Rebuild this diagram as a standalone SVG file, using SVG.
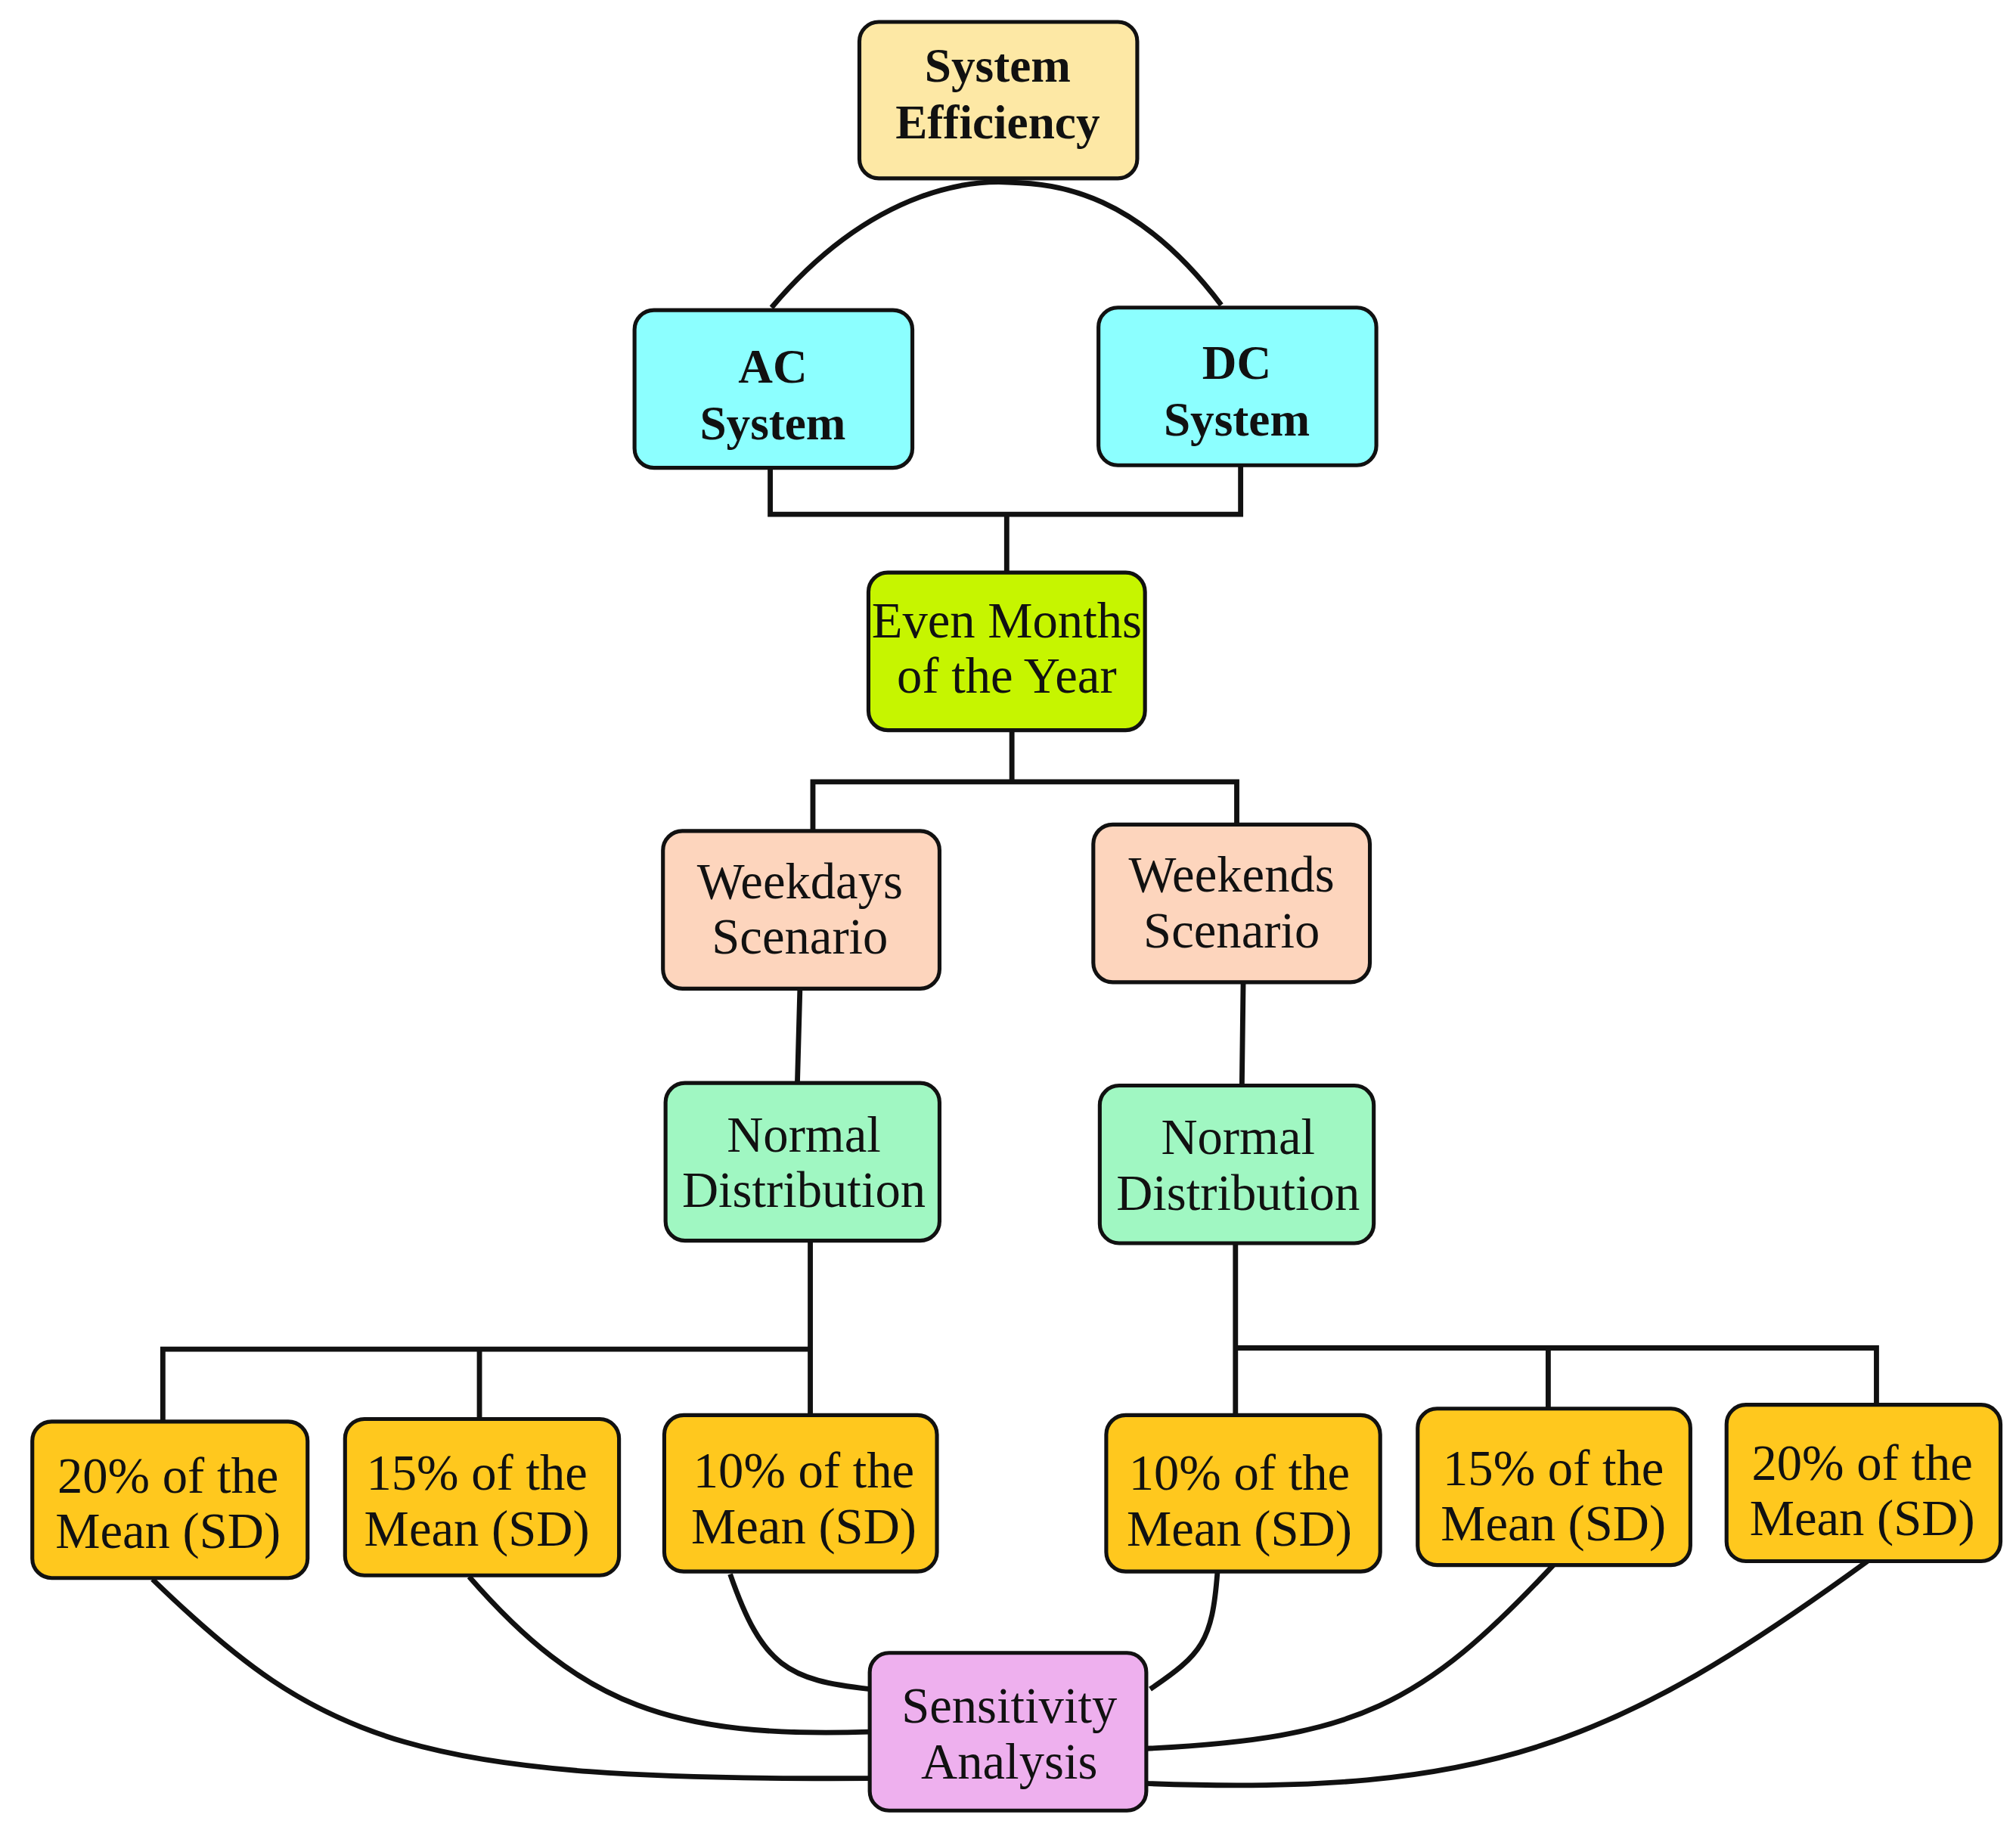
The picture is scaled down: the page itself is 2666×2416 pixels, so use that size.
<svg xmlns="http://www.w3.org/2000/svg" width="2666" height="2416" viewBox="0 0 2666 2416">
<style>
rect{stroke:#111;stroke-width:3;}
text{font-family:"Liberation Serif","Times New Roman",serif;font-size:39px;text-anchor:middle;fill:#111;}
.b{font-weight:bold;font-size:37px;}
#connectors path{fill:none;stroke:#111;stroke-width:4;}
.y{fill:#ffc81e}.n{fill:#a0f7c2}.p{fill:#fdd5bd}.c{fill:#8cffff}
</style>
<rect width="2666" height="2416" fill="#fff" style="stroke:none"/>
<g transform="scale(1.709)">
<g id="connectors">
<path d="M597,238 C680,140 760,140 780,141 C820,142 880,150 945,236"/>
<path d="M596,362 V398 H960 V360 M779,398 V443"/>
<path d="M783,565 V605 M629,643 V605 H957 V638"/>
<path d="M619,765 L617,838 M962,760 L961,840"/>
<path d="M627,960 V1095 M126,1100 V1044 H627 M371,1098 V1044"/>
<path d="M956,962 V1095 M956,1043 H1452 V1087 M1198,1090 V1043"/>
<path d="M118,1222 C250,1350 320,1378 673,1376"/>
<path d="M363,1220 C450,1320 520,1345 673,1340"/>
<path d="M565,1218 C590,1290 610,1300 673,1307"/>
<path d="M942,1217 C938,1270 930,1280 890,1307"/>
<path d="M1202,1211 C1100,1320 1050,1345 887,1353"/>
<path d="M1445,1208 C1250,1350 1150,1390 887,1380"/>
</g>
<g id="sys"><rect x="665" y="17" width="215" height="121" rx="15" fill="#fde8a5"/><text class="b" x="772" y="63">System</text><text class="b" x="772" y="107">Efficiency</text></g>
<g id="ac"><rect class="c" x="491" y="240" width="215" height="122" rx="15"/><text class="b" x="598" y="296">AC</text><text class="b" x="598" y="340">System</text></g>
<g id="dc"><rect class="c" x="850" y="238" width="215" height="122" rx="15"/><text class="b" x="957" y="293">DC</text><text class="b" x="957" y="337">System</text></g>
<g id="even"><rect x="672" y="443" width="214" height="122" rx="15" fill="#c6f500"/><text x="779" y="493">Even Months</text><text x="779" y="536">of the Year</text></g>
<g id="wd"><rect class="p" x="513" y="643" width="214" height="122" rx="15"/><text x="619" y="695">Weekdays</text><text x="619" y="738">Scenario</text></g>
<g id="we"><rect class="p" x="846" y="638" width="214" height="122" rx="15"/><text x="953" y="690">Weekends</text><text x="953" y="733">Scenario</text></g>
<g id="nl"><rect class="n" x="515" y="838" width="212" height="122" rx="15"/><text x="622" y="891">Normal</text><text x="622" y="934">Distribution</text></g>
<g id="nr"><rect class="n" x="851" y="840" width="212" height="122" rx="15"/><text x="958" y="893">Normal</text><text x="958" y="936">Distribution</text></g>
<g id="l20"><rect class="y" x="25" y="1100" width="213" height="121" rx="15"/><text x="130" y="1155">20% of the</text><text x="130" y="1198">Mean (SD)</text></g>
<g id="l15"><rect class="y" x="267" y="1098" width="212" height="121" rx="15"/><text x="369" y="1153">15% of the</text><text x="369" y="1196">Mean (SD)</text></g>
<g id="l10"><rect class="y" x="514" y="1095" width="211" height="121" rx="15"/><text x="622" y="1151">10% of the</text><text x="622" y="1194">Mean (SD)</text></g>
<g id="r10"><rect class="y" x="856" y="1095" width="212" height="121" rx="15"/><text x="959" y="1153">10% of the</text><text x="959" y="1196">Mean (SD)</text></g>
<g id="r15"><rect class="y" x="1097" y="1090" width="211" height="121" rx="15"/><text x="1202" y="1149">15% of the</text><text x="1202" y="1192">Mean (SD)</text></g>
<g id="r20"><rect class="y" x="1336" y="1087" width="212" height="121" rx="15"/><text x="1441" y="1145">20% of the</text><text x="1441" y="1188">Mean (SD)</text></g>
<g id="sa"><rect x="673" y="1279" width="214" height="122" rx="15" fill="#eeb0ee"/><text x="781" y="1333">Sensitivity</text><text x="781" y="1376">Analysis</text></g>
</g>
</svg>
